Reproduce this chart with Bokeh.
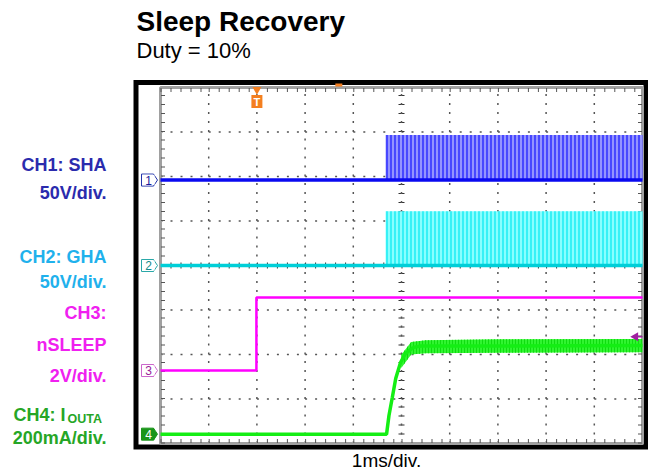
import math
from bokeh.plotting import figure
from bokeh.models import Range1d
from bokeh.embed import file_html
from bokeh.resources import INLINE
from bokeh.core.properties import value

# ---------------- data ----------------
# horizontal: time in ms (1 ms/div, 10 div); vertical: screen divisions (8 div)
x_divs = [-5, -4, -3, -2, -1, 0, 1, 2, 3, 4, 5]
y_divs = [-4, -3, -2, -1, 0, 1, 2, 3, 4]

ch_names = ["1", "2", "3", "4"]
ch_gnd = [1.92, 0.0, -2.36, -3.79]          # channel ground markers (div)

# CH1: SHA (50 V/div)
ch1_t = [-5.0, 5.0]
ch1_v = [1.92, 1.92]
ch1_sw_start = -0.33
ch1_sw_high = 2.93

# CH2: GHA (50 V/div)
ch2_t = [-5.0, 5.0]
ch2_v = [0.0, 0.0]
ch2_sw_start = -0.33
ch2_sw_high = 1.22

# CH3: nSLEEP (2 V/div)
ch3_t = [-5.0, -3.01, -3.01, 5.0]
ch3_v = [-2.36, -2.36, -0.72, -0.72]

# CH4: IOUTA (200 mA/div)
ch4_t = [-5.0, -0.31, -0.26, -0.19, -0.12, -0.02, 0.08, 0.25, 0.40, 1.0, 5.0]
ch4_v = [-3.79, -3.79, -3.37, -2.96, -2.54, -2.18, -1.98, -1.84, -1.81, -1.81, -1.80]
ch4_rip_t = [0.0, 0.2, 0.5, 2.0, 5.0]
ch4_rip_hi = [-2.00, -1.72, -1.68, -1.66, -1.65]
ch4_rip_lo = [-2.30, -2.00, -1.97, -1.96, -1.95]

trig_t = -3.0
trig_level = -1.6
mem_pos_t = -1.3

# ---------------- styling / layout ----------------
PXX = 48.2   # px per ms
PXY = 44.5   # px per div
GX0, GY0 = 160, 265   # pixel of graticule left edge / centre line
def dx(px):
    return px / PXX
def dy(px):
    return px / PXY
def tx(px):
    return x_divs[0] + (px - GX0) / PXX
def ty(py):
    return (GY0 - py) / PXY

W, H = 648, 470
FONT = "Liberation Sans"
C1, C2, C3, C4 = "#2b2bad", "#1fb1ec", "#f020f0", "#26a626"

p = figure(width=W, height=H,
           x_range=Range1d(tx(0), tx(W)),
           y_range=Range1d(ty(H), ty(0)),
           x_axis_type=None, y_axis_type=None, title=None,
           toolbar_location=None, output_backend="svg",
           min_border_left=0, min_border_right=0,
           min_border_top=0, min_border_bottom=0)
p.background_fill_color = "white"
p.border_fill_color = "white"
p.outline_line_color = None

xl, xr = x_divs[0], x_divs[-1]
yb, yt = y_divs[0], y_divs[-1]

# outer black scope frame
p.quad(left=[tx(135.5)], right=[tx(645.5)], bottom=[ty(446.5)], top=[ty(82)],
       fill_color=None, line_color="black", line_width=5, line_join="miter")

# dotted graticule
hx0, hx1, hy = [], [], []
for yv in y_divs[1:-1]:
    if yv == 0:
        continue
    for k in x_divs[:-1]:
        hx0.append(k); hx1.append(k + 1); hy.append(yv)
p.segment(x0=hx0, y0=hy, x1=hx1, y1=hy, line_color="#555555", line_width=1.5, line_dash="2 8")
vx, vy0, vy1 = [], [], []
for xv in x_divs[1:-1]:
    if xv == 0:
        continue
    for j in y_divs[:-1]:
        vx.append(xv); vy0.append(j); vy1.append(j + 1)
p.segment(x0=vx, y0=vy0, x1=vx, y1=vy1, line_color="#555555", line_width=1.5, line_dash="2 7")

# centre axes with minor ticks
p.segment(x0=[0] * 8, y0=y_divs[:-1], x1=[0] * 8, y1=y_divs[1:], line_color="#333333", line_width=6, line_dash="1 8")
p.segment(x0=[0] * 8, y0=y_divs[:-1], x1=[0] * 8, y1=y_divs[1:], line_color="#555555", line_width=1.5, line_dash="2 7")
p.segment(x0=x_divs[:-1], y0=[0] * 10, x1=x_divs[1:], y1=[0] * 10, line_color="#333333", line_width=6, line_dash="1 9")

# graticule border + ticks
p.quad(left=xl, right=xr, bottom=yb, top=yt, fill_color=None, line_color="#a0a0a0", line_width=3)
p.segment(x0=x_divs[:-1], y0=[yt - dy(2.5)] * 10, x1=x_divs[1:], y1=[yt - dy(2.5)] * 10,
          line_color="#555555", line_width=4, line_dash="1 9")
p.segment(x0=x_divs[:-1], y0=[yb + dy(2.5)] * 10, x1=x_divs[1:], y1=[yb + dy(2.5)] * 10,
          line_color="#555555", line_width=4, line_dash="1 9")
p.segment(x0=[xl + dx(2.5)] * 8, y0=y_divs[:-1], x1=[xl + dx(2.5)] * 8, y1=y_divs[1:],
          line_color="#555555", line_width=4, line_dash="1 8")
p.segment(x0=[xr - dx(2.5)] * 8, y0=y_divs[:-1], x1=[xr - dx(2.5)] * 8, y1=y_divs[1:],
          line_color="#555555", line_width=4, line_dash="1 8")

# CH1 switching
p.quad(left=ch1_sw_start, right=ch1_t[-1], bottom=ch1_v[-1], top=ch1_sw_high,
       fill_color="#9494ff", line_color=None,
       hatch_pattern="vertical_line", hatch_color="#1414ff", hatch_scale=4, hatch_weight=1.2)
p.line(ch1_t, ch1_v, line_color="#0a0af0", line_width=3.5)

# CH2 switching
p.quad(left=ch2_sw_start, right=ch2_t[-1], bottom=ch2_v[-1], top=ch2_sw_high,
       fill_color="#88ffff", line_color=None,
       hatch_pattern="vertical_line", hatch_color="#00e8f0", hatch_scale=4, hatch_weight=1.2)
p.line(ch2_t, ch2_v, line_color="#00cfd8", line_width=3.5)

# CH3
p.line(ch3_t, ch3_v, line_color="#ff00ff", line_width=2.5)

# CH4
p.varea(x=ch4_rip_t, y1=ch4_rip_lo, y2=ch4_rip_hi, fill_color="#30f530",
        hatch_pattern="vertical_line", hatch_color="#10dc10", hatch_scale=3, hatch_weight=1)
p.line(ch4_t, ch4_v, line_color="#14ee14", line_width=3.5)

# channel markers in left margin
mk_x = xl - dx(13)
mk_tip = xl - dx(7)
mk_fill = ["white", "white", "white", "#1a951a"]
mk_line = ["#2233aa", "#2aa8a8", "#cc66cc", "#1a951a"]
mk_text = ["#1a1a9a", "#138a8a", "#992299", "white"]
p.scatter(x=[mk_tip] * 4, y=ch_gnd, marker="diamond", size=12,
          fill_color=mk_fill, line_color=mk_line, line_width=1)
p.rect(x=[mk_x] * 4, y=ch_gnd, width=12, height=12, width_units="screen", height_units="screen",
       fill_color=mk_fill, line_color=mk_line, line_width=1)
p.rect(x=[mk_x + dx(1)] * 4, y=ch_gnd, width=12, height=10.5, width_units="screen", height_units="screen",
       fill_color=mk_fill, line_color=None)
p.text(x=[mk_x + dx(1)] * 4, y=ch_gnd, text=ch_names, text_align="center", text_baseline="middle",
       text_font=value(FONT), text_font_size="12px", text_color=mk_text)

# trigger position marker (T)
ORANGE = "#f47f20"
p.scatter(x=[trig_t], y=[yt - dy(2)], marker="inverted_triangle", size=9,
          fill_color=ORANGE, line_color=None)
p.rect(x=[trig_t], y=[yt - dy(14)], width=11, height=13, width_units="screen", height_units="screen",
       fill_color=ORANGE, line_color=None)
p.text(x=[trig_t], y=[yt - dy(14)], text=["T"], text_align="center", text_baseline="middle",
       text_font=value(FONT), text_font_size="11px", text_font_style="bold", text_color="white")
p.scatter(x=[mem_pos_t], y=[yt + dy(2.5)], marker="dash", size=7, line_color=ORANGE, line_width=3)

# trigger level arrow (right edge)
p.segment(x0=[xr - dx(7)], y0=[trig_level], x1=[xr], y1=[trig_level], line_color="#a020a0", line_width=1.5)
p.scatter(x=[xr - dx(7)], y=[trig_level], marker="triangle", angle=math.pi / 2, size=9,
          fill_color="#a020a0", line_color=None)

# ---------------- texts ----------------
def add_text(text, px, py, size, color, align="right", style="bold"):
    # py is the wanted baseline; compensate renderer baseline shift (~0.32 em)
    py_adj = py - 0.32 * size
    p.text(x=[tx(px)], y=[ty(py_adj)], text=[text], text_align=align, text_baseline="alphabetic",
           text_font=value(FONT), text_font_size=f"{size}px", text_font_style=style, text_color=color)

add_text("Sleep Recovery", 136, 30, 28, "black", align="left")
add_text("Duty = 10%", 136, 57, 22, "black", align="left", style="normal")
add_text("1ms/div.", 386, 466, 19, "black", align="center", style="normal")

left_labels = [("CH1: SHA", 170, C1), ("50V/div.", 198, C1),
               ("CH2: GHA", 262, C2), ("50V/div.", 287, C2),
               ("CH3:", 318, C3), ("nSLEEP", 350, C3), ("2V/div.", 381, C3),
               ("200mA/div.", 443, C4)]
for txt, by, col in left_labels:
    add_text(txt, 106, by, 18, col)
add_text("CH4: I", 65, 420, 18, C4)
add_text("OUTA", 67, 422, 12.5, C4, align="left")

open("out.html", "w").write(file_html(p, INLINE))
